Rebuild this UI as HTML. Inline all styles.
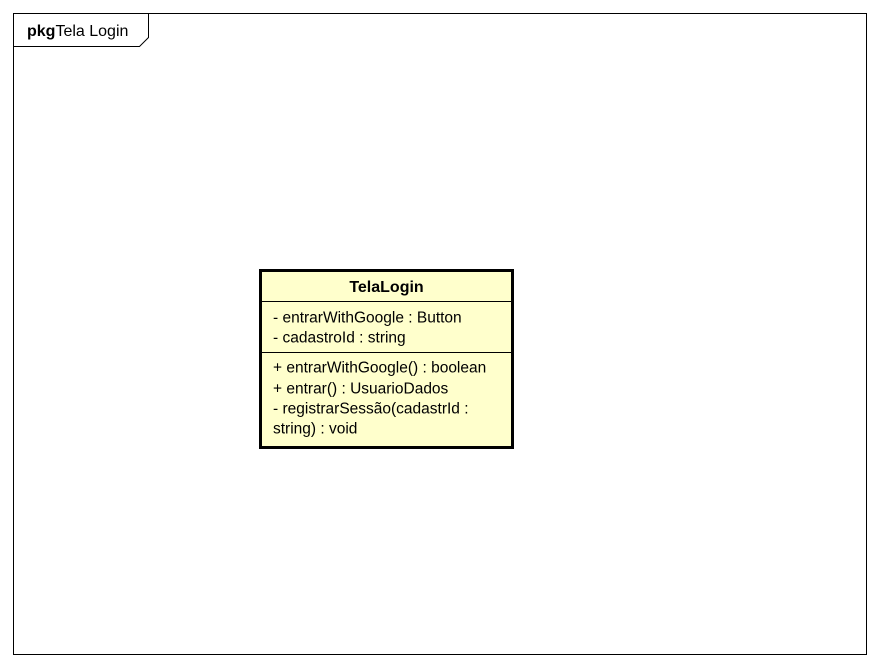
<!DOCTYPE html>
<html><head><style>
body{margin:0;width:880px;height:666px;background:#fff;font-family:"Liberation Sans",sans-serif;}
</style></head><body>
<svg width="880" height="666" xmlns="http://www.w3.org/2000/svg" style="position:absolute;left:0;top:0">
<rect x="13.5" y="13.5" width="853" height="641" fill="#fff" stroke="#000" stroke-width="1"/>
<path d="M13.5 46.5 H139.5 L148.5 37.5 V13.5" fill="none" stroke="#000" stroke-width="1"/>
<text x="27" y="36" font-size="16" font-family="Liberation Sans, sans-serif"><tspan font-weight="bold">pkg</tspan>Tela Login</text>
<rect x="260.5" y="270.5" width="252" height="177" fill="#ffffcc" stroke="#000" stroke-width="3"/>
<line x1="261" y1="301.5" x2="512" y2="301.5" stroke="#000" stroke-width="1"/>
<line x1="261" y1="352.5" x2="512" y2="352.5" stroke="#000" stroke-width="1"/>
<g font-size="15.5" font-family="Liberation Sans, sans-serif">
<text x="386.5" y="292" text-anchor="middle" font-weight="bold" font-size="16">TelaLogin</text>
<text x="273" y="322.5">- entrarWithGoogle : Button</text>
<text x="273" y="342.5">- cadastroId : string</text>
<text x="273" y="372.5">+ entrarWithGoogle() : boolean</text>
<text x="273" y="393.5">+ entrar() : UsuarioDados</text>
<text x="273" y="413.5">- registrarSessão(cadastrId :</text>
<text x="273" y="433.5">string) : void</text>
</g>
</svg>
</body></html>
